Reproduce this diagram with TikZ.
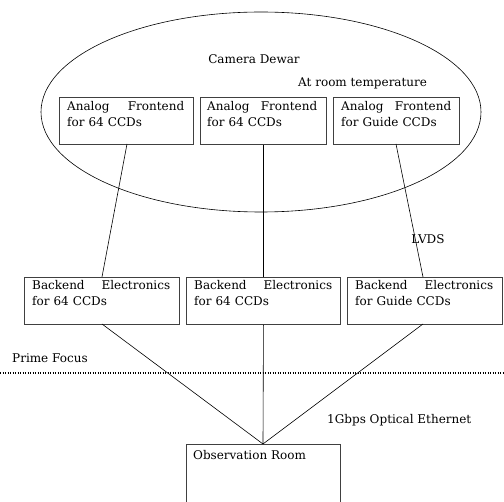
\documentclass[tikz,border=0pt]{standalone}
\usepackage{fontspec}
\setmainfont{DejaVu Serif}
\usetikzlibrary{shapes.geometric}
\newcommand{\jline}[2]{\hbox to\linewidth{#1\hfill #2}}
\begin{document}
\begin{tikzpicture}[x=1pt,y=-1pt,
  box/.style={draw=black!75,line width=0.9pt,anchor=north west,inner sep=0pt},
  txt/.style={anchor=north west,inner sep=0pt,align=left,font=\fontsize{12}{16}\selectfont},
  lab/.style={inner sep=0pt,font=\fontsize{12}{14}\selectfont},
  conn/.style={draw=black,line width=0.6pt}]
\useasboundingbox (0,0) rectangle (504,502);
\begin{scope}
\clip (0,0) rectangle (504,502);
% Dewar
\node[draw=black,line width=0.6pt,ellipse,minimum width=440pt,minimum height=200pt,inner sep=0pt] (dewar) at (261,112) {};
\node[lab] (cd) at (254,59) {Camera Dewar};
\node[lab,anchor=west] (rt) at (298,83) {At room temperature};
% frontends
\node[box,minimum width=134pt,minimum height=47pt] (f1) at (59,97) {};
\node[box,minimum width=126pt,minimum height=47pt] (f2) at (200,97) {};
\node[box,minimum width=126pt,minimum height=47pt] (f3) at (333,97) {};
\node[txt,text width=117pt] (tf1) at (67,101) {\jline{Analog}{Frontend}\\for 64 CCDs};
\node[txt,text width=110pt] (tf2) at (207,101) {\jline{Analog}{Frontend}\\for 64 CCDs};
\node[txt,text width=110pt] (tf3) at (341,101) {\jline{Analog}{Frontend}\\for Guide CCDs};
% backends
\node[box,minimum width=155pt,minimum height=47pt] (b1) at (24,277) {};
\node[box,minimum width=154pt,minimum height=47pt] (b2) at (186,277) {};
\node[box,minimum width=155pt,minimum height=47pt] (b3) at (347,277) {};
\node[txt,text width=138pt] (tb1) at (32,280) {\jline{Backend}{Electronics}\\for 64 CCDs};
\node[txt,text width=138pt] (tb2) at (194,280) {\jline{Backend}{Electronics}\\for 64 CCDs};
\node[txt,text width=138pt] (tb3) at (355,280) {\jline{Backend}{Electronics}\\for Guide CCDs};
\node[lab] (lvds) at (428,239) {LVDS};
% prime focus
\node[lab,anchor=west] (pf) at (12,358) {Prime Focus};
\coordinate (dl) at (0,373);
\coordinate (dr) at (504,373);
\draw[line width=1.8pt,dash pattern=on 1.4pt off 1.1pt] (dl) -- (dr);
\node[lab,anchor=west] (ge) at (327,420) {1Gbps Optical Ethernet};
% observation room
\node[box,minimum width=154pt,minimum height=80pt] (obs) at (186,444) {};
\node[lab,anchor=north west] (to) at (193,450) {Observation Room};
% connectors
\coordinate (obt) at (263,444);
\coordinate (f1b) at (127,144);
\coordinate (b1t) at (102,277);
\coordinate (f3b) at (396,144);
\coordinate (b3t) at (423,277);
\coordinate (b1b) at (102,324);
\coordinate (b3b) at (423,324);
\draw[conn] (f1b) -- (b1t);
\draw[conn] (f2.south) -- (b2.north);
\draw[conn] (f3b) -- (b3t);
\draw[conn] (b1b) -- (obt);
\draw[conn] (b2.south) -- (obt);
\draw[conn] (b3b) -- (obt);
\end{scope}
\end{tikzpicture}
\end{document}
